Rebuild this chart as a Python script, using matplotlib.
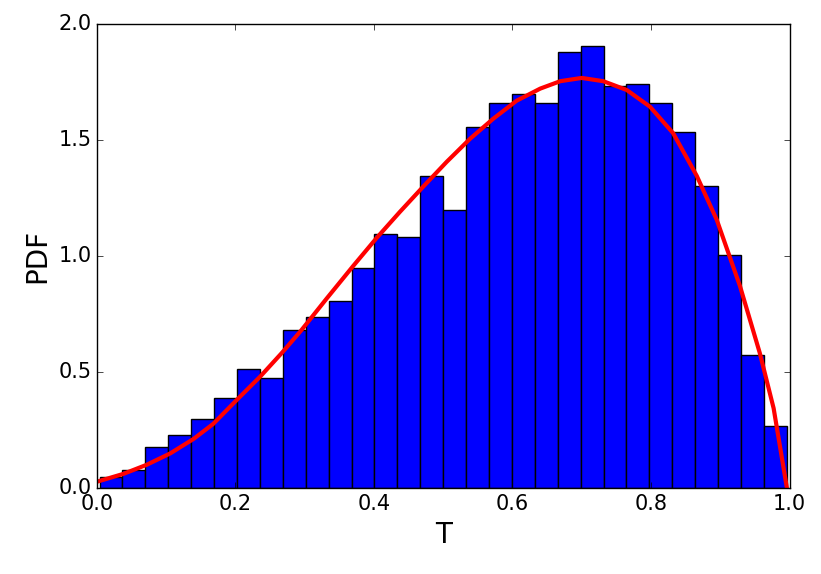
import numpy as np
import matplotlib
matplotlib.use('Agg')
import matplotlib.pyplot as plt

plt.style.use('classic')

# histogram (30 bins)
bin_lo, bin_hi = 0.0039, 0.996
heights = [0.05, 0.08, 0.18, 0.23, 0.298, 0.388, 0.513, 0.474, 0.68, 0.739,
           0.808, 0.947, 1.095, 1.083, 1.344, 1.198, 1.556, 1.66, 1.697, 1.657,
           1.877, 1.905, 1.731, 1.738, 1.657, 1.532, 1.301, 1.004, 0.574, 0.268]

# fitted pdf curve
curve_t = [0.0, 0.0385, 0.072, 0.106, 0.140, 0.168, 0.202, 0.236, 0.267, 0.295,
           0.332, 0.370, 0.404, 0.4375, 0.471, 0.505, 0.539, 0.572, 0.606, 0.640,
           0.669, 0.700, 0.731, 0.765, 0.7986, 0.832, 0.866, 0.895, 0.9285, 0.957,
           0.977, 0.996]
curve_pdf = [0.029, 0.063, 0.102, 0.151, 0.214, 0.278, 0.381, 0.482, 0.583, 0.68,
             0.818, 0.957, 1.078, 1.19, 1.298, 1.405, 1.505, 1.59, 1.668, 1.72,
             1.752, 1.766, 1.752, 1.714, 1.642, 1.528, 1.345, 1.155, 0.87, 0.583,
             0.345, 0.005]

fig = plt.figure(figsize=(8.21, 5.74), dpi=100)
fig.patch.set_facecolor('white')
ax = fig.add_axes([0.118, 0.149, 0.8437, 0.81])

edges = np.linspace(bin_lo, bin_hi, len(heights) + 1)
ax.bar(edges[:-1], heights, width=np.diff(edges), align='edge',
       color='blue', edgecolor='black', linewidth=1.0)
ax.plot(curve_t, curve_pdf, color='red', linewidth=3, solid_joinstyle='round')

ax.set_xlim(0, 1)
ax.set_ylim(0, 2)
ax.set_xticks([0, 0.2, 0.4, 0.6, 0.8, 1.0])
ax.set_yticks([0, 0.5, 1.0, 1.5, 2.0])
ax.tick_params(labelsize=15)
ax.set_xlabel('T', fontsize=20)
ax.set_ylabel('PDF', fontsize=20)

fig.savefig('out.png', dpi=100, facecolor='white')
